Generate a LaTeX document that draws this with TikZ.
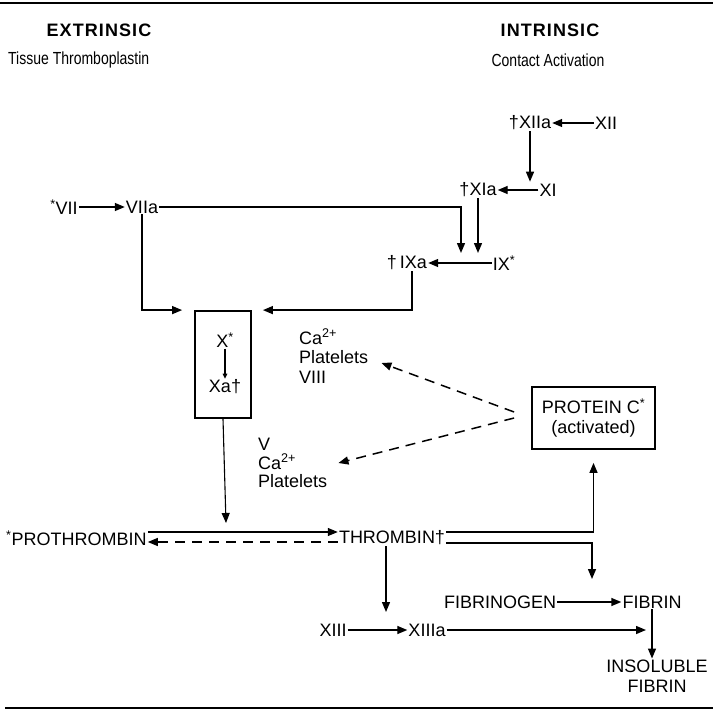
\documentclass[tikz,border=0pt]{standalone}
\usepackage{fontspec}
\setmainfont{Liberation Sans}
\usetikzlibrary{arrows.meta}

\begin{document}
\begin{tikzpicture}[x=1pt,y=-1pt,
  lbl/.style={font=\fontsize{18}{20}\selectfont,inner sep=1pt},
  hdr/.style={font=\fontsize{18}{20}\selectfont\bfseries\addfontfeatures{LetterSpace=6},inner sep=1pt},
  sub/.style={font=\fontsize{17.5}{19}\selectfont\addfontfeatures{FakeStretch=0.8},inner sep=1pt},
  stack/.style={lbl,align=left,anchor=west},
  factorbox/.style={draw,line width=1.8pt},
  link/.style={line width=1.4pt,-{Triangle[length=10pt,width=8pt]}},
  inhib/.style={line width=1.5pt,dash pattern=on 10pt off 7pt,-{Triangle[length=10pt,width=8pt]}},
  rule/.style={line width=1.3pt}
]
\useasboundingbox (0,0) rectangle (713,714);
\draw[rule] (0,3) -- (713,3);
\draw[rule] (5,708) -- (713,708);

\node[hdr] (ext) at (99,30) {EXTRINSIC};
\node[hdr] (int) at (550,30) {INTRINSIC};
\node[sub,anchor=west] (tissue) at (7,60) {Tissue Thromboplastin};
\node[sub] (contact) at (548,60) {Contact Activation};

\node[lbl] (xiia) at (530,123) {\textdagger XIIa};
\node[lbl] (xii) at (606,123) {XII};
\node[lbl] (xia) at (478,190) {\textdagger XIa};
\node[lbl] (xi) at (548,190) {XI};
\node[lbl] (vii) at (64,207) {\textsuperscript{*}VII};
\node[lbl] (viia) at (142,207) {VIIa};
\node[lbl] (ixa) at (407,263) {\textdagger\,IXa};
\node[lbl] (ix) at (504,263) {IX\textsuperscript{*}};

\node[factorbox,minimum width=56pt,minimum height=107pt] (xbox) at (223,364.5) {};
\node[lbl] (x) at (225,340) {X\textsuperscript{*}};
\node[lbl] (xa) at (225,387) {Xa\textdagger};
\node[stack,font=\fontsize{18}{19.5}\selectfont] (ca1) at (298,356) {Ca\textsuperscript{2+}\\Platelets\\VIII};
\node[stack,font=\fontsize{18}{18.5}\selectfont] (ca2) at (257,463) {V\\Ca\textsuperscript{2+}\\Platelets};
\node[factorbox,lbl,minimum width=123pt,minimum height=62pt,align=center] (protc) at (593.5,418) {PROTEIN C\textsuperscript{*}\\(activated)};

\node[lbl,anchor=west] (pro) at (5,538) {\textsuperscript{*}PROTHROMBIN};
\node[lbl] (thr) at (392,538) {THROMBIN\textdagger};
\node[lbl] (fgen) at (500,602) {FIBRINOGEN};
\node[lbl] (fib) at (652,602) {FIBRIN};
\node[lbl] (xiii) at (333,630) {XIII};
\node[lbl] (xiiia) at (427,630) {XIIIa};
\node[lbl,align=center] (insol) at (657,676) {INSOLUBLE\\FIBRIN};

\coordinate (ixin) at (461,253);
\coordinate (proin) at (226,523);
\coordinate (fibin) at (592,579);
\coordinate (xiiiin) at (386,612);

% intrinsic side
\draw[link] (xii.west) -- (xiia.east);
\draw[link] (xiia.south) -- (xiia.south |- xia.north);
\draw[link] (xi.west) -- (xia.east);
\draw[link] (xia.south) -- (xia.south |- ixin);
\draw[link] (viia.east) -| (ixin);
\draw[link] (ix.west) -- (ixa.east);
\draw[link] ([xshift=5pt]ixa.south) |- ([xshift=11pt]xbox.north east);

% extrinsic side
\draw[link] (vii.east) -- (viia.west);
\draw[link] (viia.south) |- ([xshift=-12pt]xbox.north west);
\draw[line width=1.2pt,-{Triangle[length=5pt,width=4.5pt]}] (x.south) -- (xa.north);

% common pathway
\draw[link,line width=1.1pt] (xbox.south) -- (proin);
\draw[link,line width=1.1pt] ([yshift=6pt]pro.east) -- ([yshift=6pt]thr.west);
\draw[inhib,line width=1.3pt] ([yshift=-4pt]thr.west) -- ([yshift=-4pt]pro.east);
\draw[link] ([yshift=6pt]thr.east) -| ([yshift=-13pt]protc.south);
\draw[link] ([yshift=-5pt]thr.east) -| (fibin);
\draw[link] (thr.south -| xiiiin) -- (xiiiin);
\draw[link] (fgen.east) -- (fib.west);
\draw[link] (xiii.east) -- (xiiia.west);
\draw[link] (xiiia.east) -- ([xshift=-6pt]xiiia.east -| fib.south);
\draw[link] (fib.south) -- (fib.south |- insol.north);

% protein C
\draw[inhib] ([shift={(-17pt,6pt)}]protc.west) -- ([shift={(12pt,-7pt)}]ca1.east);
\draw[inhib] ([xshift=-17pt]protc.west) -- ([xshift=10pt]ca2.east);
\end{tikzpicture}
\end{document}
